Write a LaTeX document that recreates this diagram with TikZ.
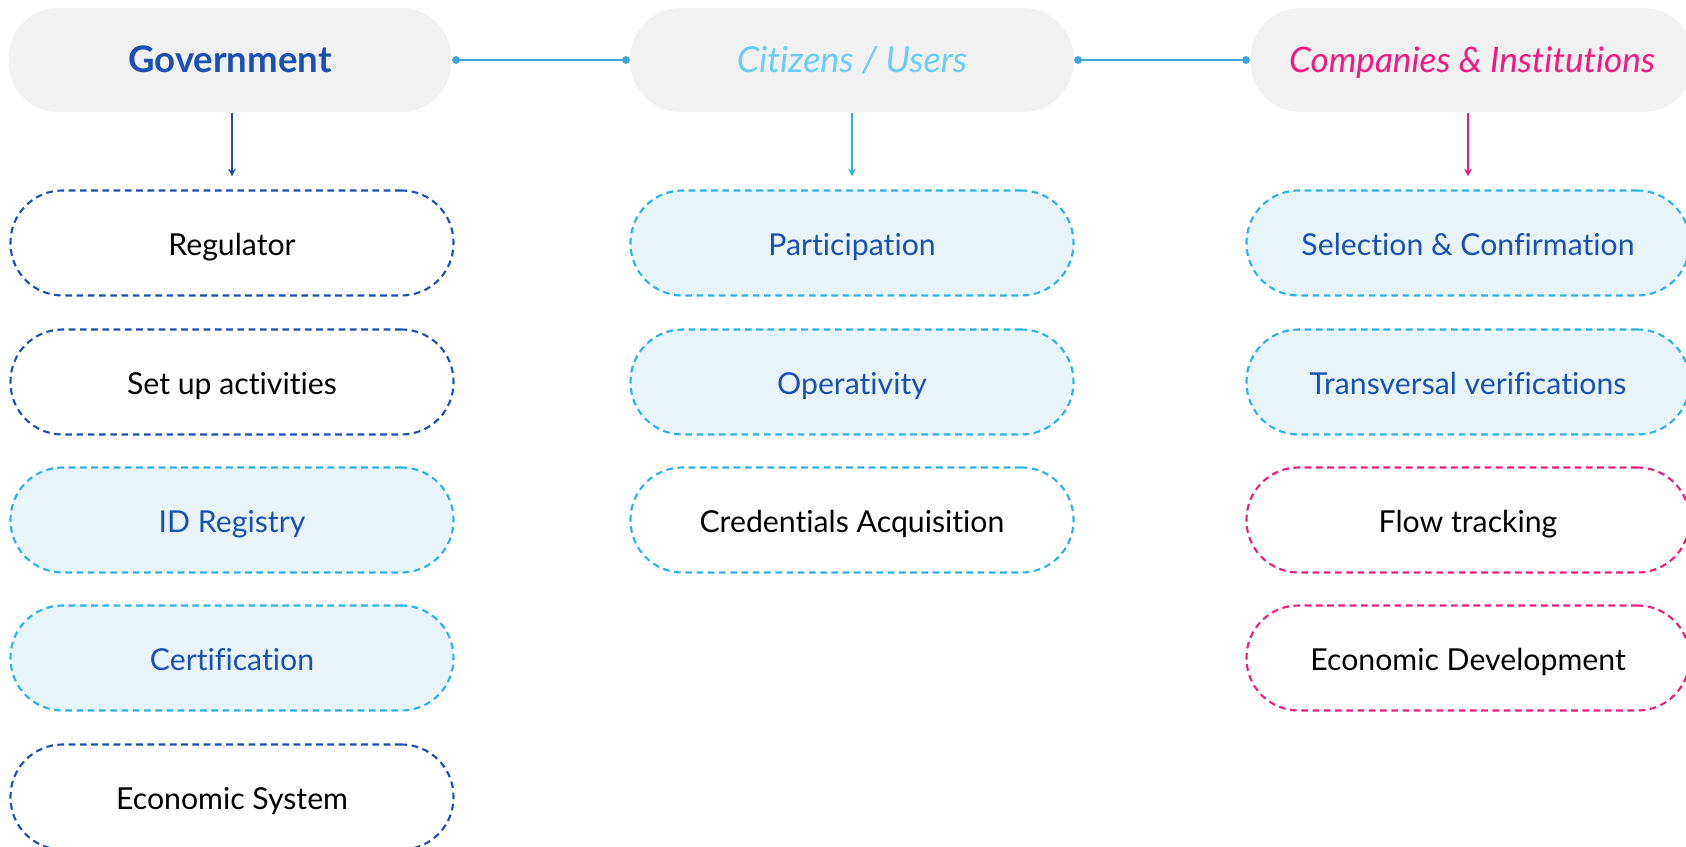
\documentclass[tikz,border=0pt]{standalone}
\usepackage{fontspec}
\setmainfont{Lato}[RawFeature={-liga;-dlig}]
\usetikzlibrary{arrows.meta}

\definecolor{darkblue}{HTML}{1A4FB3}
\definecolor{skyblue}{HTML}{2BB3E6}
\definecolor{paleblue}{HTML}{E7F4FA}
\definecolor{citblue}{HTML}{6ACDF7}
\definecolor{hotpink}{HTML}{F2197F}
\definecolor{headgray}{HTML}{F1F1F1}
\definecolor{linkblue}{HTML}{3DA5DB}

\begin{document}
\begin{tikzpicture}[
	head/.style={fill=headgray, rounded corners=0.5cm, minimum width=4.43cm, minimum height=1.04cm, text height=1.85ex, text depth=0.4ex},
	item/.style={rounded corners=0.52cm, minimum width=4.43cm, minimum height=1.05cm, line width=0.6pt, dash pattern=on 1.9pt off 1.3pt, text height=1.8ex, text depth=0.4ex, font=\fontsize{8.6}{10}\selectfont},
	navy/.style={item, draw=darkblue, text=black},
	pale/.style={item, draw=skyblue, fill=paleblue, text=darkblue},
	sky/.style={item, draw=skyblue, text=black},
	pinky/.style={item, draw=hotpink, text=black},
	link/.style={linkblue, line width=0.6pt, {Circle[length=2.2pt]}-{Circle[length=2.2pt]}},
	down/.style={line width=0.5pt, -{Stealth[length=2.2pt,width=2.2pt]}}
	]
\useasboundingbox (0,0) rectangle (16.86,-8.47);
\clip (0,0) rectangle (16.86,-8.47);

% headers
\node[head, text=darkblue, font=\fontsize{10.4}{12}\selectfont\bfseries] at (2.30,-0.60) (gov){Government};
\node[head, text=citblue, font=\fontsize{10.2}{12}\selectfont\itshape] at (8.52,-0.60) (cit){Citizens / Users};
\node[head, text=hotpink, font=\fontsize{10}{12}\selectfont\itshape] at (14.72,-0.60) (comp){Companies \& Institutions};

\draw[link] (gov.east) -- (cit.west);
\draw[link] (cit.east) -- (comp.west);

% government column
\node[navy] at (2.32,-2.43) (g1){Regulator};
\node[navy] at (2.32,-3.82) (g2){Set up activities};
\node[pale] at (2.32,-5.20) (g3){ID Registry};
\node[pale] at (2.32,-6.58) (g4){Certification};
\node[navy] at (2.32,-7.97) (g5){Economic System};

% citizens column
\node[pale] at (8.52,-2.43) (c1){Participation};
\node[pale] at (8.52,-3.82) (c2){Operativity};
\node[sky] at (8.52,-5.20) (c3){Credentials Acquisition};

% companies column
\node[pale] at (14.68,-2.43) (k1){Selection \& Confirmation};
\node[pale] at (14.68,-3.82) (k2){Transversal verifications};
\node[pinky] at (14.68,-5.20) (k3){Flow tracking};
\node[pinky] at (14.68,-6.58) (k4){Economic Development};

\coordinate (gtip) at ([yshift=0.13cm]g1.north);
\coordinate (ctip) at ([yshift=0.13cm]c1.north);
\coordinate (ktip) at ([yshift=0.13cm]k1.north);

\draw[down, darkblue] (gov.south -| gtip) -- (gtip);
\draw[down, skyblue] (cit.south -| ctip) -- (ctip);
\draw[down, hotpink] (comp.south -| ktip) -- (ktip);

\end{tikzpicture}
\end{document}
